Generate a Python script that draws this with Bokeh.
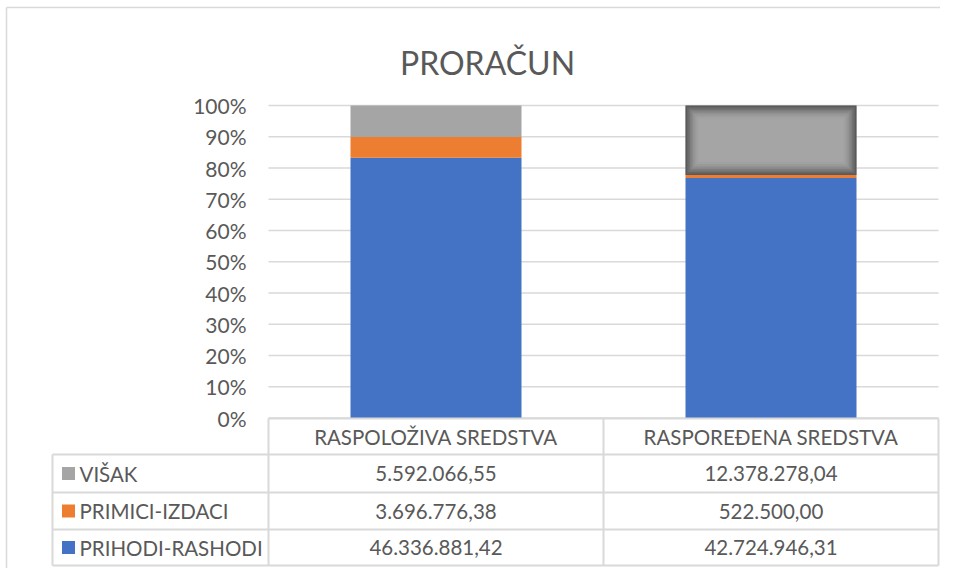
import numpy as np
from bokeh.plotting import figure
from bokeh.models import ColumnDataSource, Range1d
from bokeh.core.properties import value
from bokeh.embed import file_html
from bokeh.resources import INLINE

# ---------------- data ----------------
title_text = "PRORAČUN"
categories = ["RASPOLOŽIVA SREDSTVA", "RASPOREĐENA SREDSTVA"]
series = ["PRIHODI-RASHODI", "PRIMICI-IZDACI", "VIŠAK"]
prihodi_rashodi = [46336881.42, 42724946.31]
primici_izdaci = [3696776.38, 522500.00]
visak = [5592066.55, 12378278.04]
colors = ["#4472C4", "#ED7D31", "#A5A5A5"]
tick_values = [0.0, 0.1, 0.2, 0.3, 0.4, 0.5, 0.6, 0.7, 0.8, 0.9, 1.0]
tick_labels = ["0%", "10%", "20%", "30%", "40%", "50%", "60%", "70%", "80%", "90%", "100%"]

# ---------------- layout helpers (pixel geometry of the frame) ----------------
W, H = 940, 568
OFF_X, OFF_Y = 2, 1           # where the figure lands in the picture
X0_PX, UNIT_X = 270, 335.0    # picture x of category 0 and px per category
Y0_PX, UNIT_Y = 418.5, 312.5  # picture y of 0% and px per 100%

def dx(px):
    return (px - X0_PX) / UNIT_X

def dy(py):
    return (Y0_PX - py) / UNIT_Y

FONT = "Lato"
TXT = "#595959"
GRID = "#D9D9D9"

p = figure(width=W, height=H, output_backend="svg", toolbar_location=None,
           x_range=Range1d(dx(OFF_X), dx(OFF_X + W)), y_range=Range1d(dy(OFF_Y + H), dy(OFF_Y)),
           min_border=0, min_border_left=0, min_border_right=0,
           min_border_top=0, min_border_bottom=0)
p.axis.visible = False
p.grid.visible = False
p.outline_line_color = None
p.background_fill_color = "white"
p.border_fill_color = "white"

ncat = len(categories)
xs = np.arange(ncat) + 0.5

# chart-area border (left and top edges visible)
p.segment(x0=[dx(8), dx(8)], x1=[dx(8), dx(OFF_X + W)], y0=[dy(8), dy(8)], y1=[dy(OFF_Y + H), dy(8)],
          line_color="#D9D9D9", line_width=1.5)

# gridlines
p.segment(x0=[0] * len(tick_values), x1=[ncat] * len(tick_values),
          y0=tick_values, y1=tick_values, line_color=GRID, line_width=1.5)

# tick labels
p.text(x=[0] * len(tick_values), y=tick_values, text=tick_labels,
       x_offset=-22, text_align="right", text_baseline="middle",
       text_color=TXT, text_font=value(FONT), text_font_size="21px")

# stacked 100% bars
vals = np.array([prihodi_rashodi, primici_izdaci, visak])
totals = vals.sum(axis=0)
fr = vals / totals
src = ColumnDataSource(dict(x=xs, s0=fr[0], s1=fr[1], s2=fr[2]))
BAR_W = 171 / UNIT_X
p.vbar_stack(["s0", "s1", "s2"], x="x", width=BAR_W, color=colors,
             line_color=None, source=src)

# soft glow effect on the second VIŠAK segment
bot = fr[0][1] + fr[1][1]
top = 1.0
glow = [("#5A5A5A", 0), ("#666666", 1.5), ("#727272", 3), ("#7E7E7E", 4.5),
        ("#898989", 6), ("#929292", 7.5), ("#9A9A9A", 9), ("#A1A1A1", 11), ("#A5A5A5", 13)]
for col, inset in glow:
    p.vbar(x=[xs[1]], width=BAR_W - 2 * inset / UNIT_X,
           bottom=[bot + inset / UNIT_Y], top=[top - inset / UNIT_Y],
           fill_color=col, line_color=None)

# ---------------- data table ----------------
row_px = [419, 455, 493, 530, 566]
row_y = [dy(v) for v in row_px]
left_x = dx(54)
p.segment(x0=[0], x1=[ncat], y0=[row_y[0]], y1=[row_y[0]], line_color=GRID, line_width=2)
p.segment(x0=[left_x] * 4, x1=[ncat] * 4, y0=row_y[1:], y1=row_y[1:], line_color=GRID, line_width=2)
p.segment(x0=[left_x], x1=[left_x], y0=[row_y[1]], y1=[row_y[-1]], line_color=GRID, line_width=2)
p.segment(x0=list(range(ncat + 1)), x1=list(range(ncat + 1)),
          y0=[row_y[0]] * (ncat + 1), y1=[row_y[-1]] * (ncat + 1), line_color=GRID, line_width=2)

p.text(x=xs, y=[(row_y[0] + row_y[1]) / 2] * ncat, text=categories,
       text_align="center", text_baseline="middle", text_color=TXT,
       text_font=value(FONT), text_font_size="20.5px")

def fmt(v):
    s = f"{v:,.2f}"
    return s.replace(",", "X").replace(".", ",").replace("X", ".")

table_rows = [("VIŠAK", visak, colors[2]), ("PRIMICI-IZDACI", primici_izdaci, colors[1]),
              ("PRIHODI-RASHODI", prihodi_rashodi, colors[0])]
for i, (name, vv, col) in enumerate(table_rows):
    yc = (row_y[i + 1] + row_y[i + 2]) / 2
    p.rect(x=[dx(70)], y=[yc], width=13, height=13, width_units="screen",
           height_units="screen", fill_color=col, line_color=None)
    p.text(x=[dx(81)], y=[yc], text=[name], text_align="left", text_baseline="middle",
           text_color=TXT, text_font=value(FONT), text_font_size="20.5px")
    p.text(x=xs, y=[yc] * ncat, text=[fmt(v) for v in vv], text_align="center",
           text_baseline="middle", text_color=TXT, text_font=value(FONT),
           text_font_size="20.5px")

p.text(x=[dx(489)], y=[dy(63)], text=[title_text], text_align="center",
       text_baseline="alphabetic", text_color=TXT, text_font=value(FONT),
       text_font_size="32px")

open("out.html", "w").write(file_html(p, INLINE))
